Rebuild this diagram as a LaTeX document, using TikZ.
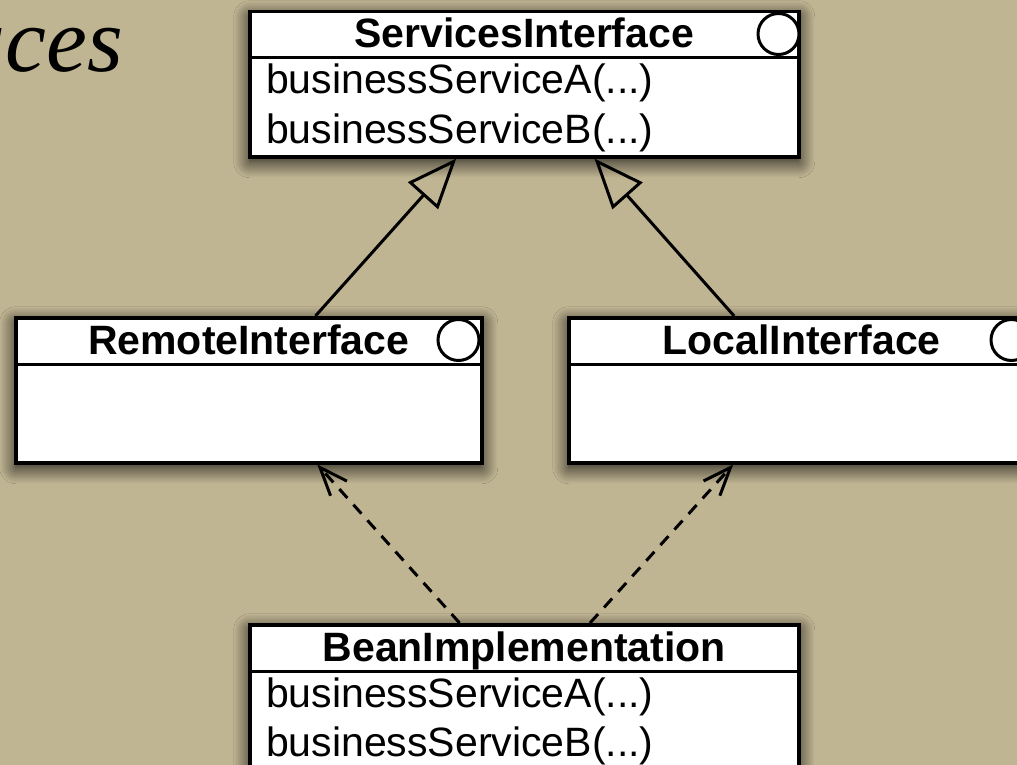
\documentclass[tikz,border=0pt]{standalone}
\usepackage{fontspec}
\setmainfont{Liberation Sans}
\newfontfamily\serifttl{Liberation Serif}
\usetikzlibrary{arrows.meta,calc,shadows.blur}
\definecolor{paper}{RGB}{192,181,147}

\begin{document}
\begin{tikzpicture}[x=1pt,y=-1pt,
  umlbox/.style={draw=black, line width=3.5pt, fill=white, rectangle,
    inner sep=0pt, anchor=north west,
    blur shadow={shadow xshift=0pt, shadow yshift=-5pt,
      shadow blur radius=16pt, shadow blur steps=24, shadow opacity=90}},
  rule/.style={draw=black, line width=3pt},
  ifacedot/.style={circle, draw=black, line width=3pt, fill=white,
    minimum size=41pt, inner sep=0pt},
  head/.style={font=\bfseries\fontsize{41}{48}\selectfont, anchor=base, inner sep=0pt},
  meth/.style={font=\fontsize{41}{48}\selectfont, anchor=base west, inner sep=0pt},
  gen/.style={line width=3pt,
    -{Triangle[open, length=50pt, width=40pt, line width=3pt]}},
  dep/.style={line width=3pt, dash pattern=on 12pt off 9pt,
    -{Straight Barb[length=28pt, width=22pt, line width=3pt]}}
]
\useasboundingbox (0,0) rectangle (1017,765);
\clip (0,0) rectangle (1017,765);
\fill[paper] (0,0) rectangle (1017,765);

% slide title, running off the left edge
\node[font=\serifttl\itshape\fontsize{92}{92}\selectfont, anchor=base east,
  inner sep=0pt] (title) at (123,72) {Interfaces};

% ServicesInterface
\node[umlbox, minimum width=549pt, minimum height=145pt] (svc) at (248,10) {};
\draw[rule] ($(svc.north west)+(0,48)$) -- ($(svc.north east)+(0,48)$);
\node[ifacedot] (svcdot) at ($(svc.north east)+(-22,24)$) {};
\node[head] (svct) at ($(svc.north)+(0,38)$) {ServicesInterface};
\node[meth] (svca) at ($(svc.north west)+(18,84)$) {businessServiceA(...)};
\node[meth] (svcb) at ($(svc.north west)+(18,133)$) {businessServiceB(...)};

% RemoteInterface
\node[umlbox, minimum width=466pt, minimum height=145pt] (rem) at (14,316) {};
\draw[rule] ($(rem.north west)+(0,48)$) -- ($(rem.north east)+(0,48)$);
\node[ifacedot] (remdot) at ($(rem.north east)+(-25,24)$) {};
\node[head] (remt) at ($(rem.north)+(0,38)$) {RemoteInterface};

% LocalInterface
\node[umlbox, minimum width=466pt, minimum height=145pt] (loc) at (567,316) {};
\draw[rule] ($(loc.north west)+(0,48)$) -- ($(loc.north east)+(0,48)$);
\node[ifacedot] (locdot) at ($(loc.north east)+(-25,24)$) {};
\node[head] (loct) at ($(loc.north)+(0,38)$) {LocalInterface};

% BeanImplementation
\node[umlbox, minimum width=549pt, minimum height=148pt] (bean) at (248,623) {};
\draw[rule] ($(bean.north west)+(0,48)$) -- ($(bean.north east)+(0,48)$);
\node[head] (beant) at ($(bean.north)+(0,38)$) {BeanImplementation};
\node[meth] (beana) at ($(bean.north west)+(18,84)$) {businessServiceA(...)};
\node[meth] (beanb) at ($(bean.north west)+(18,133)$) {businessServiceB(...)};

% generalisation
\draw[gen] ($(rem.north west)!0.642!(rem.north east)$)
  -- ($(svc.south west)!0.377!(svc.south east)$);
\draw[gen] ($(loc.north west)!0.356!(loc.north east)$)
  -- ($(svc.south west)!0.627!(svc.south east)$);

% realisation
\draw[dep] ($(bean.north west)!0.383!(bean.north east)$)
  -- ($(rem.south west)!0.646!(rem.south east)$);
\draw[dep] ($(bean.north west)!0.619!(bean.north east)$)
  -- ($(loc.south west)!0.354!(loc.south east)$);
\end{tikzpicture}
\end{document}
